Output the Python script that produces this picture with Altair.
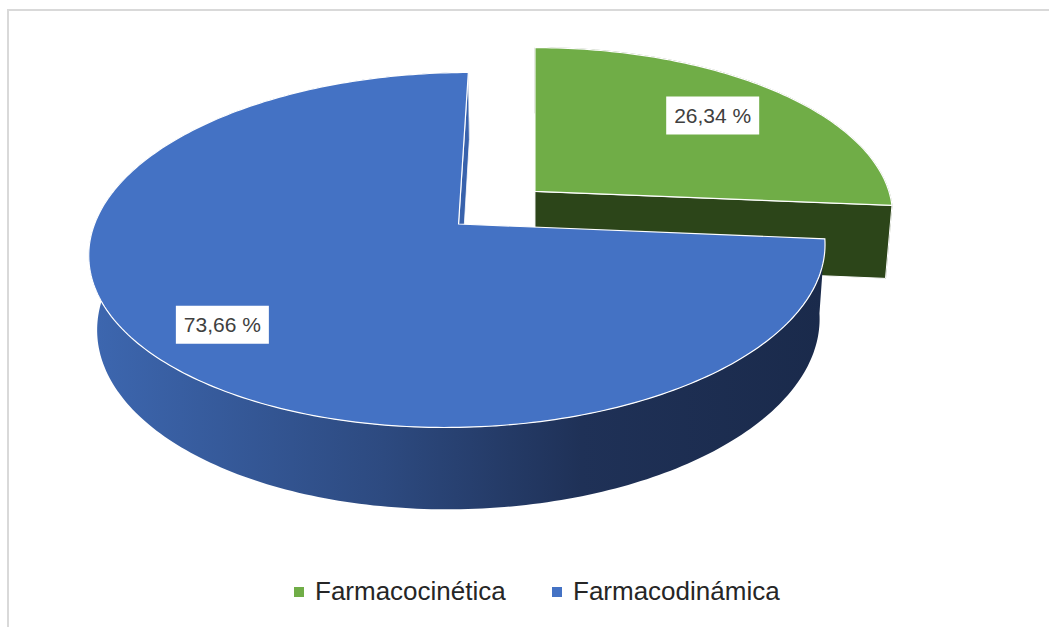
import numpy as np
import pandas as pd
import altair as alt

# ---- data ----
categories = ["Farmacocinética", "Farmacodinámica"]
shares = [26.34, 73.66]
label_texts = ["26,34 %", "73,66 %"]
top_colors = ["#70ad47", "#4472c4"]

# ---- styling / 3D layout ----
W, H = 1049, 627
ELEV = np.radians(28.5)        # camera elevation
CAM_DIST = 6.0                 # camera distance in pie radii
CAM_X = 0.21                   # horizontal camera offset
THICK = 0.235                  # pie thickness in radii
EXPLODE = [0.285, 0.0]         # explosion of each slice
LABEL_R = [0.73, 0.79]         # label position along mid-angle
PX = 364.0                     # pixels per radius
OX, OY = 535.0, 224.0          # pixel position of the projected origin
N_FULL = 360                   # arc resolution per full turn

SIN_E, COS_E = np.sin(ELEV), np.cos(ELEV)


def project(X, Y, Z):
    yv = Y * COS_E + Z * SIN_E
    zv = -Y * SIN_E + Z * COS_E
    f = 1.0 + zv / CAM_DIST
    return (X - CAM_X) / f, yv / f


def arc(cx, cz, a0, a1, y):
    n = max(int(abs(a1 - a0) / 360 * N_FULL), 8)
    t = np.radians(np.linspace(a0, a1, n))
    return cx + np.sin(t), np.full(n, y), cz + np.cos(t)


def frame(X, Y, Z, cat):
    u, v = project(np.asarray(X), np.asarray(Y), np.asarray(Z))
    return pd.DataFrame({"u": u, "v": v, "idx": np.arange(len(u)), "category": cat})


# slice geometry from the shares (clockwise from 12 o'clock)
bounds = np.concatenate([[0], np.cumsum(shares)]) / sum(shares) * 360.0
slices = []
for i, cat in enumerate(categories):
    a0, a1 = bounds[i], bounds[i + 1]
    mid = np.radians((a0 + a1) / 2)
    cx, cz = EXPLODE[i] * np.sin(mid), EXPLODE[i] * np.cos(mid)
    slices.append(dict(cat=cat, a0=a0, a1=a1, mid=mid, cx=cx, cz=cz))


def top_face(s):
    X, Y, Z = arc(s["cx"], s["cz"], s["a0"], s["a1"], 0.0)
    return frame(np.r_[s["cx"], X], np.r_[0.0, Y], np.r_[s["cz"], Z], s["cat"])


def wall(s):
    X1, Y1, Z1 = arc(s["cx"], s["cz"], s["a0"], s["a1"], 0.0)
    X2, Y2, Z2 = arc(s["cx"], s["cz"], s["a1"], s["a0"], -THICK)
    return frame(np.r_[X1, X2], np.r_[Y1, Y2], np.r_[Z1, Z2], s["cat"])


def radial(s, a):
    t = np.radians(a)
    rx, rz = s["cx"] + np.sin(t), s["cz"] + np.cos(t)
    X = [s["cx"], rx, rx, s["cx"]]
    Y = [0.0, 0.0, -THICK, -THICK]
    Z = [s["cz"], rz, rz, s["cz"]]
    return frame(X, Y, Z, s["cat"])


green, blue = slices
tops = pd.concat([top_face(s) for s in slices], ignore_index=True)

lab_rows = []
for s, txt, r in zip(slices, label_texts, LABEL_R):
    X = s["cx"] + r * np.sin(s["mid"])
    Z = s["cz"] + r * np.cos(s["mid"])
    u, v = project(X, 0.0, Z)
    lab_rows.append({"u": u, "v": v, "text": txt})
labels = pd.DataFrame(lab_rows)

# ---- scales: map projected units onto the canvas ----
xs = alt.Scale(domain=[(0 - OX) / PX, (W - OX) / PX], zero=False, nice=False)
ys = alt.Scale(domain=[(OY - H) / PX, OY / PX], zero=False, nice=False)
X_ENC = alt.X("u:Q", scale=xs, axis=None)
Y_ENC = alt.Y("v:Q", scale=ys, axis=None)


def poly(df, color, stroke="white", width=1.0):
    return alt.Chart(df).mark_line(
        filled=True, color=color, stroke=stroke, strokeWidth=width,
        interpolate="linear-closed"
    ).encode(x=X_ENC, y=Y_ENC, order=alt.Order("idx:Q"))


side_gradient = alt.Gradient(
    gradient="linear", x1=0, x2=1, y1=0, y2=0,
    stops=[
        alt.GradientStop(offset=0.0, color="#3d67b0"),
        alt.GradientStop(offset=0.4, color="#2d4a80"),
        alt.GradientStop(offset=0.67, color="#1f3157"),
        alt.GradientStop(offset=1.0, color="#1a2a4b"),
    ],
)

green_wall = poly(wall(green), "#2c4519", stroke="#2c4519", width=0.5)
green_cut = poly(radial(green, green["a1"]), "#2c4519", width=1.0)
blue_wall = poly(wall(blue), side_gradient, stroke="transparent", width=0)
blue_cut = poly(radial(blue, blue["a1"]), "#3862ac", width=0.8)

top_layer = alt.Chart(tops).mark_line(
    filled=True, stroke="white", strokeWidth=1.2, interpolate="linear-closed"
).encode(
    x=X_ENC,
    y=Y_ENC,
    order=alt.Order("idx:Q"),
    color=alt.Color(
        "category:N",
        scale=alt.Scale(domain=categories, range=top_colors),
        legend=alt.Legend(
            title=None, orient="none", direction="horizontal",
            legendX=286, legendY=579,
            symbolType="square", symbolSize=100, symbolStrokeWidth=0,
            symbolOpacity=1,
            labelFont="Liberation Sans", labelFontSize=26, labelColor="#262626",
            labelOffset=3, columnPadding=38, labelLimit=400,
        ),
    ),
)

boxes = alt.Chart(labels).mark_rect(width=93, height=38, color="white").encode(
    x=X_ENC, y=Y_ENC
)
texts = alt.Chart(labels).mark_text(
    font="Liberation Sans", fontSize=21, color="#404040",
    align="center", baseline="middle", dy=1,
).encode(x=X_ENC, y=Y_ENC, text="text:N")

frame_df = pd.DataFrame({"k": [0]})
border_left = alt.Chart(frame_df).mark_rule(color="#d9d9d9", strokeWidth=2).encode(
    x=alt.value(8), y=alt.value(9), y2=alt.value(H)
)
border_top = alt.Chart(frame_df).mark_rule(color="#d9d9d9", strokeWidth=2).encode(
    x=alt.value(7), x2=alt.value(W), y=alt.value(10)
)

chart = alt.layer(
    green_wall, green_cut, blue_wall, blue_cut, top_layer, boxes, texts,
    border_left, border_top,
).properties(
    width=W, height=H, padding=0, autosize="none", background="white"
).configure_view(strokeWidth=0)

chart.save("out.html", embed_options={"renderer": "svg", "actions": False})
